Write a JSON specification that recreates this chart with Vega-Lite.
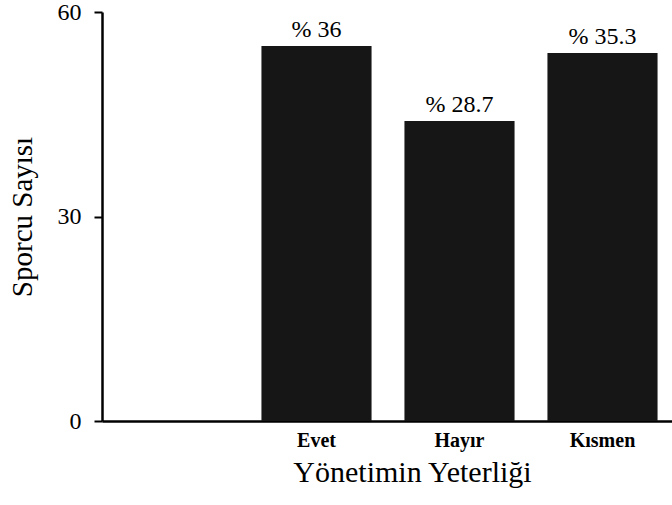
{
  "$schema": "https://vega.github.io/schema/vega-lite/v6.json",
  "width": 572,
  "height": 409,
  "autosize": "none",
  "padding": {"left": 102, "top": 12, "right": 0, "bottom": 84},
  "background": "white",
  "config": {
    "view": {"stroke": null},
    "font": "Liberation Serif"
  },
  "data": {
    "values": [
      {"kategori": "Evet", "sayi": 55, "yuzde": "% 36"},
      {"kategori": "Hayır", "sayi": 44, "yuzde": "% 28.7"},
      {"kategori": "Kısmen", "sayi": 54, "yuzde": "% 35.3"}
    ]
  },
  "encoding": {
    "x": {
      "field": "kategori",
      "type": "nominal",
      "sort": null,
      "scale": {"domain": [" ", "Evet", "Hayır", "Kısmen"], "paddingInner": 0.23, "paddingOuter": 0.115},
      "axis": {
        "title": "Yönetimin Yeterliği",
        "titleFont": "Liberation Serif",
        "titleFontSize": 30,
        "titleFontWeight": "normal",
        "titleColor": "black",
        "titlePadding": 7,
        "titleX": 310,
        "labelAngle": 0,
        "labelFont": "Liberation Serif",
        "labelFontSize": 20,
        "labelFontWeight": "bold",
        "labelColor": "black",
        "labelPadding": 9,
        "ticks": false,
        "domainColor": "black",
        "domainWidth": 2.5
      }
    },
    "y": {
      "field": "sayi",
      "type": "quantitative",
      "scale": {"domain": [0, 60], "nice": false},
      "axis": {
        "title": "Sporcu Sayısı",
        "titleFont": "Liberation Serif",
        "titleFontSize": 29,
        "titleFontWeight": "normal",
        "titleColor": "black",
        "titlePadding": 20,
        "values": [0, 30, 60],
        "grid": false,
        "labelFont": "Liberation Serif",
        "labelFontSize": 24,
        "labelColor": "black",
        "labelPadding": 13,
        "tickSize": 8,
        "tickWidth": 2,
        "tickColor": "black",
        "domainColor": "black",
        "domainWidth": 2.5
      }
    }
  },
  "layer": [
    {"mark": {"type": "bar", "color": "#161616"}},
    {
      "mark": {"type": "text", "baseline": "bottom", "dy": -4, "fontSize": 24, "font": "Liberation Serif", "color": "black"},
      "encoding": {"text": {"field": "yuzde"}}
    }
  ]
}
